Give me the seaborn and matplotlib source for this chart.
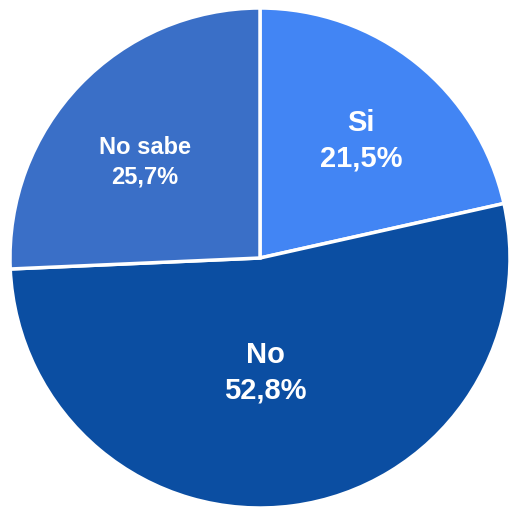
import numpy as np
import matplotlib.pyplot as plt
import seaborn as sns

sns.set_theme(style="white")
plt.rcParams['font.family'] = ['Liberation Sans', 'DejaVu Sans']

labels = ["Si", "No", "No sabe"]
shares = [21.5, 52.8, 25.7]
colors = ["#4285F4", "#0B4EA2", "#3A6FC7"]
label_sizes = [21, 21, 17]
label_radius = [0.62, 0.46, 0.60]
label_nudge = [-2, -5, 4]  # degrees

fig = plt.figure(figsize=(5.10, 5.08), dpi=100)
ax = fig.add_axes([0, 0, 1, 1])

wedges, _ = ax.pie(shares, colors=colors, startangle=90, counterclock=False,
                   wedgeprops=dict(edgecolor="white", linewidth=2.5))

for w, lab, val, fs, r, dn in zip(wedges, labels, shares, label_sizes, label_radius, label_nudge):
    ang = np.deg2rad((w.theta1 + w.theta2) / 2 + dn)
    txt = f"{lab}\n{val:.1f}%".replace(".", ",")
    ax.text(r * np.cos(ang), r * np.sin(ang), txt, ha="center", va="center",
            color="white", fontsize=fs, fontweight="bold", linespacing=1.35)

ax.set_xlim(-1.04, 1.0)
ax.set_ylim(-1.0, 1.032)
ax.set_aspect("equal")
ax.axis("off")
fig.savefig("out.png", dpi=100, facecolor="white")
